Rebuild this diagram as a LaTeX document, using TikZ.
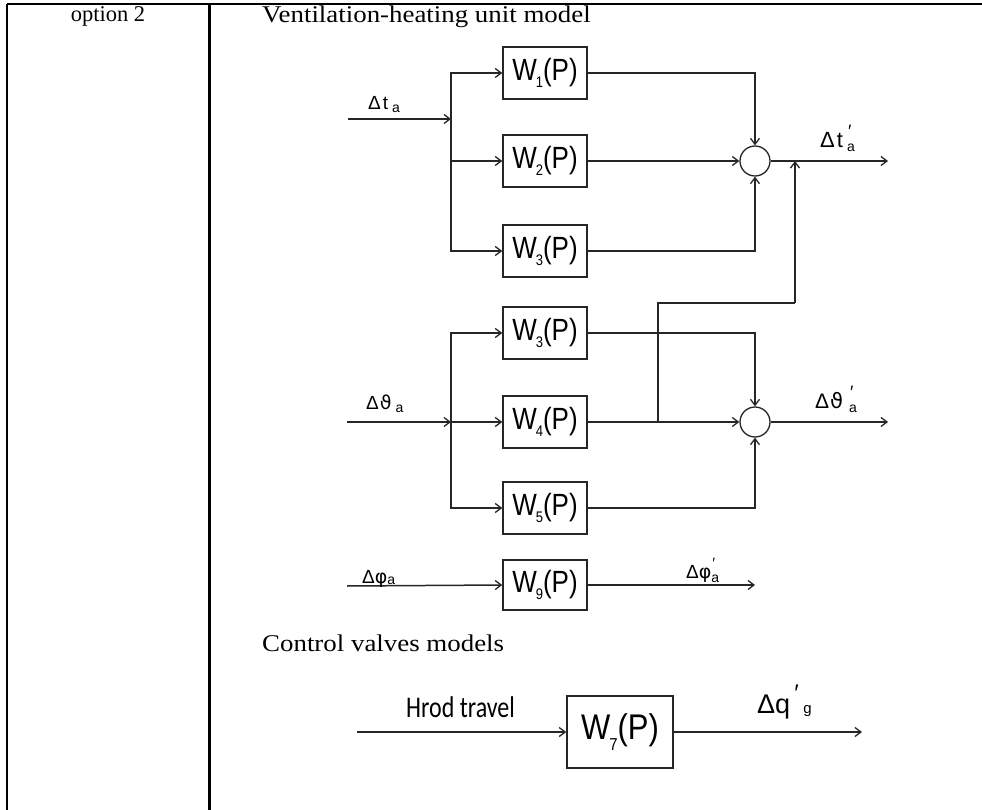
\documentclass[tikz,border=0pt]{standalone}
\usepackage{fontspec}
\setmainfont{Liberation Serif}
\setsansfont{Liberation Sans}
\newfontfamily\dvs{DejaVu Sans}
\usetikzlibrary{arrows.meta}
\newcommand{\Wsub}[1]{\scalebox{1}[1.18]{W\kern-1pt\raisebox{-0.25em}{\fontsize{13}{13}\selectfont #1}(P)}}
\begin{document}
\begin{tikzpicture}[x=1pt,y=-1pt,
  tline/.style={line width=2.6pt,black},
  wire/.style={line width=1.5pt,black!85},
  arr/.style={wire,-{Straight Barb[length=6pt,width=9pt,line width=1.3pt]}},
  blk/.style={draw=black!85,line width=1.5pt,minimum width=84pt,minimum height=52pt,inner sep=0pt,
    font=\sffamily\fontsize{26}{26}\selectfont},
  sumc/.style={circle,draw=black!85,line width=1.3pt,minimum size=30pt,inner sep=0pt},
  serif/.style={font=\fontsize{24}{24}\selectfont},
  lbl/.style={anchor=base west,inner sep=0pt,font=\sffamily\fontsize{19}{19}\selectfont}
]
\useasboundingbox (0,0) rectangle (982,810);
% table
\draw[tline] (7,4) -- (982,4);
\draw[tline] (7,4) -- (7,810);
\draw[tline] (209.5,4) -- (209.5,810);
\node[font=\fontsize{22.5}{22.5}\selectfont,anchor=base] (opt) at (108,22) {option 2};
\node[serif,anchor=base west,inner sep=0pt] (title) at (262,23) {\scalebox{1.12}[1]{Ventilation-heating unit model}};
\node[serif,anchor=base west,inner sep=0pt] (ctitle) at (262,651) {\scalebox{1.12}[1]{Control valves models}};

% ---- top group
\node[blk] (W1) at (545,73) {\Wsub{1}};
\node[blk] (W2) at (545,161) {\Wsub{2}};
\node[blk] (W3a) at (545,251) {\Wsub{3}};
\node[sumc] (S1) at (755,161) {};
\coordinate (ta) at (348,119);
\coordinate (ja) at (451,119);
\draw[arr] (ta) -- (ja);
\draw[arr] (ja) |- (W1.west);
\draw[arr] (ja) |- (W2.west);
\draw[arr] (ja) |- (W3a.west);
\draw[arr] (W1.east) -| (S1.north);
\draw[arr] (W2.east) -- (S1.west);
\draw[arr] (W3a.east) -| (S1.south);
\coordinate (o1) at (888,161);
\draw[arr] (S1.east) -- (o1);
\node[lbl] (lta) at (368,110) {Δ\kern2pt t\kern4pt\raisebox{-3pt}{\fontsize{14}{14}\selectfont a}};
\node[lbl,font=\sffamily\fontsize{22}{22}\selectfont] (lta2) at (820,148)
  {Δ\kern2pt t\rlap{\kern5pt\raisebox{10pt}{\fontsize{18}{18}\selectfont ′}}\kern4pt\raisebox{-4pt}{\fontsize{14}{14}\selectfont a}};

% ---- middle group
\node[blk] (W3b) at (545,333) {\Wsub{3}};
\node[blk] (W4) at (545,422) {\Wsub{4}};
\node[blk] (W5) at (545,508) {\Wsub{5}};
\node[sumc] (S2) at (755,422) {};
\coordinate (tb) at (347,422);
\coordinate (jb) at (451,422);
\draw[arr] (tb) -- (jb);
\draw[arr] (jb) |- (W3b.west);
\draw[arr] (jb) -- (W4.west);
\draw[arr] (jb) |- (W5.west);
\draw[arr] (W3b.east) -| (S2.north);
\draw[arr] (W4.east) -- (S2.west);
\draw[arr] (W5.east) -| (S2.south);
\coordinate (o2) at (888,422);
\draw[arr] (S2.east) -- (o2);
% feedback from W4 output to top output
\coordinate (fbA) at (658,422);
\coordinate (fbB) at (795,303);
\draw[wire] (fbA) |- (fbB);
\draw[arr] (fbB) -- (fbB |- o1);
\node[lbl] (ltb) at (366,409) {Δ\kern1pt{\dvs ϑ}\kern4pt\raisebox{-3pt}{\fontsize{14}{14}\selectfont a}};
\node[lbl,font=\sffamily\fontsize{21}{21}\selectfont] (ltb2) at (815,408)
  {Δ\kern1pt{\dvs ϑ}\rlap{\kern7pt\raisebox{10pt}{\fontsize{18}{18}\selectfont ′}}\kern6pt\raisebox{-4pt}{\fontsize{14}{14}\selectfont a}};

% ---- phi row
\node[blk,minimum height=50pt] (W9) at (545,585) {\Wsub{9}};
\coordinate (tc) at (347,586);
\draw[arr] (tc) -- (W9.west);
\coordinate (o3) at (755,585);
\draw[arr] (W9.east) -- (o3);
\node[lbl] (ltc) at (362,583) {Δ{\dvs\fontsize{19}{19}\selectfont φ}\raisebox{-1pt}{\fontsize{14}{14}\selectfont a}};
\node[lbl] (ltc2) at (686,578) {Δ{\dvs\fontsize{19}{19}\selectfont φ}\rlap{\kern1pt\raisebox{10pt}{\fontsize{15}{15}\selectfont ′}}\raisebox{-4pt}{\fontsize{14}{14}\selectfont a}};

% ---- valve
\node[blk,minimum width=106pt,minimum height=72pt,font=\sffamily\fontsize{31}{31}\selectfont] (W7) at (620,732)
  {\scalebox{1}[1.15]{W\kern-1pt\raisebox{-0.3em}{\fontsize{15}{15}\selectfont 7}(P)}};
\coordinate (td) at (357,732);
\draw[arr] (td) -- (W7.west);
\coordinate (o4) at (862,732);
\draw[arr] (W7.east) -- (o4);
\node[lbl,font=\fontspec{Carlito}\fontsize{24}{24}\selectfont] (hrod) at (406,717) {\scalebox{1}[1.25]{Hrod travel}};
\node[lbl,font=\sffamily\fontsize{27}{27}\selectfont] (ldq) at (757,713)
  {Δq\rlap{\kern4pt\raisebox{12pt}{\fontsize{24}{24}\selectfont ′}}\kern13pt\raisebox{0pt}{\fontsize{15}{15}\selectfont g}};
\end{tikzpicture}
\end{document}
